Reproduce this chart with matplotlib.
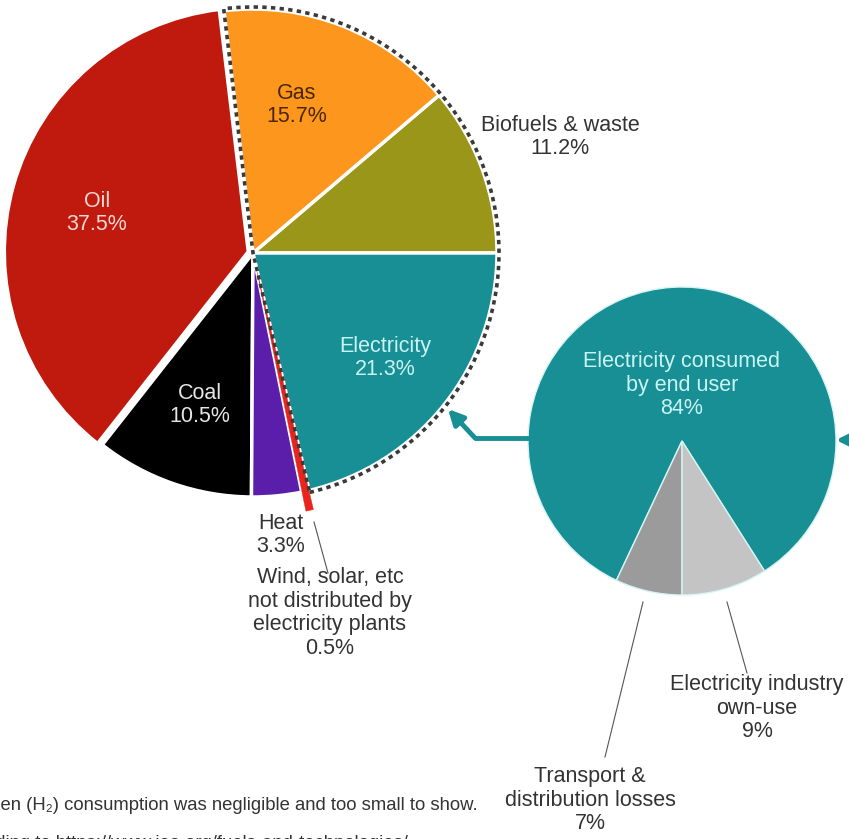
import matplotlib
matplotlib.use('Agg')
import matplotlib.pyplot as plt
from matplotlib.patches import Wedge
import numpy as np

plt.rcParams['font.family'] = ['Liberation Sans', 'DejaVu Sans']

W, H = 849, 839

# main pie: final energy consumption by source (%)
sources = ['Biofuels & waste', 'Gas', 'Oil', 'Coal', 'Heat',
           'Wind, solar, etc\nnot distributed by\nelectricity plants', 'Electricity']
shares = [11.2, 15.7, 37.5, 10.5, 3.3, 0.5, 21.3]
src_colors = ['#9a961a', '#fd961c', '#bf1a0d', '#000000', '#5a1eaa', '#e8241c', '#178f95']

# where the electricity goes (%)
elec_parts = ['Electricity consumed\nby end user', 'Transport &\ndistribution losses',
              'Electricity industry\nown-use']
elec_shares = [84, 7, 9]
elec_colors = ['#178f95', '#9b9b9b', '#c4c4c4']

teal = '#178f95'
grey_txt = '#333333'

fig = plt.figure(figsize=(W / 100, H / 100), dpi=100)
ax = fig.add_axes([0, 0, 1, 1])

main_c = (253, H - 253)
main_r = 244
small_c = (682, H - 441)
small_r = 154

# pie explode is in data units here, so scale by the radius
explode = [0, 0, 0.02 * main_r, 0, 0, 0.08 * main_r, 0]
wedges, _ = ax.pie(shares, colors=src_colors, startangle=0, counterclock=True,
                   center=main_c, radius=main_r, explode=explode,
                   wedgeprops=dict(edgecolor='white', linewidth=2.5))
# thin sliver: keep it visible as a red line
wedges[5].set_linewidth(0.3)
wedges[5].set_edgecolor('#e8241c')
wedges[5].set_zorder(3)

# dashed outline around electricity + biofuels + gas
cum = np.cumsum([0] + shares) * 3.6
t1 = cum[6]          # start of electricity
t2 = 360 + cum[2]    # end of gas
ax.add_patch(Wedge(main_c, main_r + 2, t1, t2, fill=False, edgecolor='#3a3a3a',
                   linewidth=2.6, linestyle=(0, (1.2, 1.2)), zorder=5))

# small pie
start = 270 + elec_shares[2] * 3.6
ax.pie(elec_shares, colors=elec_colors, startangle=start, counterclock=True,
       center=small_c, radius=small_r,
       wedgeprops=dict(edgecolor='#d6f4f4', linewidth=1.0))

ax.set_xlim(0, W)
ax.set_ylim(0, H)
ax.set_aspect('equal')
ax.axis('off')

fs = 15.5
def lab(x, y, s, color=grey_txt, size=fs):
    ax.text(x, H - y, s, ha='center', va='center', fontsize=size, color=color,
            linespacing=1.15, zorder=6)

lab(297, 105, f'{sources[1]}\n{shares[1]}%', color='#4a2600')
lab(560, 137, f'{sources[0]}\n{shares[0]}%')
lab(97, 213, f'{sources[2]}\n{shares[2]}%', color='#f6d8d2')
lab(200, 405, f'{sources[3]}\n{shares[3]}%', color='#e6e6e6')
lab(385, 358, f'{sources[6]}\n{shares[6]}%', color='#c9f4f4')
lab(281, 535, f'{sources[4]}\n{shares[4]}%')
lab(330, 613, f'{sources[5]}\n{shares[5]}%')

lab(682, 385, f'{elec_parts[0]}\n{elec_shares[0]}%', color='#c9f4f4')
lab(590, 800, f'{elec_parts[1]}\n{elec_shares[1]}%')
lab(757, 708, f'{elec_parts[2]}\n{elec_shares[2]}%')

# leader lines
for (x0, y0), (x1, y1) in [((314, 522), (328, 573)),
                           ((727, 602), (747, 673)),
                           ((643, 602), (605, 757))]:
    ax.plot([x0, x1], [H - y0, H - y1], color='#555555', lw=0.8, zorder=6)

# arrows linking the two pies
ax.plot([530, 474], [H - 438, H - 438], color=teal, lw=3.5, solid_capstyle='butt', zorder=4)
ax.annotate('', xy=(448, H - 409), xytext=(475, H - 438),
            arrowprops=dict(arrowstyle='-|>,head_length=0.9,head_width=0.45',
                            color=teal, lw=3.5, shrinkA=0, shrinkB=0), zorder=4)
ax.annotate('', xy=(836, H - 440), xytext=(880, H - 440), annotation_clip=False,
            arrowprops=dict(arrowstyle='-|>,head_length=0.9,head_width=0.45',
                            color=teal, lw=3.5, shrinkA=0, shrinkB=0), zorder=4)

# footnote (cropped at the edges in the original)
ax.text(478, H - 805, 'Hydrogen (H\u2082) consumption was negligible and too small to show.',
        ha='right', va='center', fontsize=13.3, color=grey_txt)
ax.text(408, H - 844, 'Data according to https://www.iea.org/fuels-and-technologies/',
        ha='right', va='center', fontsize=13.3, color=grey_txt)

fig.savefig('out.png', dpi=100)
